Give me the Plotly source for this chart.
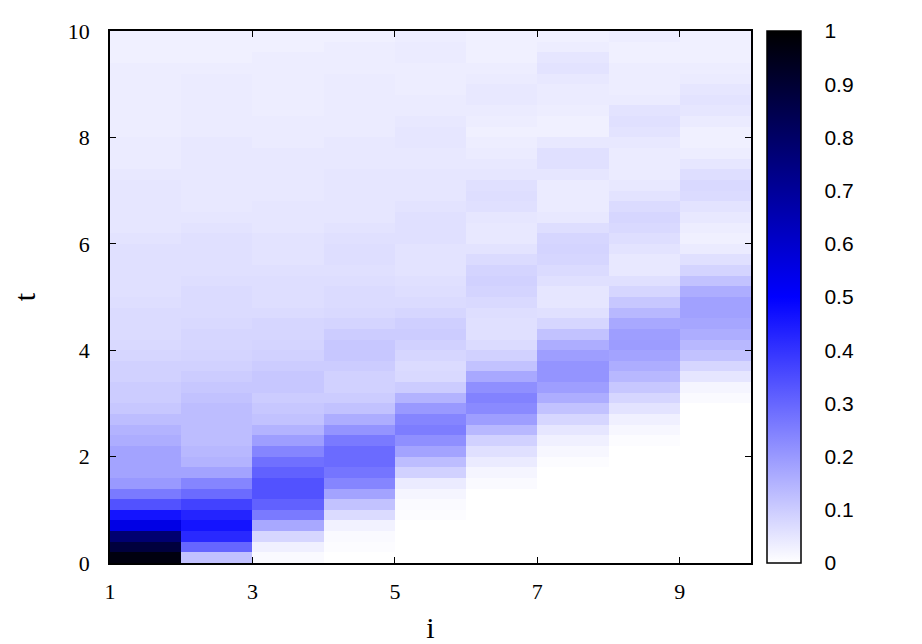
import numpy as np
import plotly.graph_objects as go

# site index (columns) and time bins
i_edges = [1, 2, 3, 4, 5, 6, 7, 8, 9, 10]
t_edges = [round(0.2 * k, 1) for k in range(51)]  # 0, 0.2, ..., 10

# values per site, bottom (t=0.1) to top (t=9.9), one value per 0.2 time step
p1 = [0.97, 0.88, 0.78, 0.55, 0.46, 0.34, 0.26, 0.20, 0.18, 0.18,
      0.18, 0.16, 0.15, 0.13, 0.11, 0.10, 0.10, 0.09, 0.09, 0.08,
      0.075, 0.07, 0.07, 0.07, 0.065, 0.06, 0.06, 0.06, 0.06, 0.06,
      0.055, 0.05, 0.05, 0.05, 0.05, 0.05, 0.045, 0.04, 0.04, 0.04,
      0.035, 0.035, 0.035, 0.035, 0.035, 0.035, 0.035, 0.03, 0.03, 0.03]
p2 = [0.12, 0.30, 0.42, 0.46, 0.43, 0.37, 0.29, 0.24, 0.18, 0.15,
      0.14, 0.13, 0.13, 0.13, 0.13, 0.12, 0.11, 0.10, 0.09, 0.085,
      0.08, 0.08, 0.075, 0.07, 0.07, 0.07, 0.065, 0.06, 0.06, 0.06,
      0.06, 0.055, 0.05, 0.045, 0.045, 0.045, 0.045, 0.045, 0.045, 0.045,
      0.04, 0.04, 0.04, 0.04, 0.04, 0.04, 0.035, 0.03, 0.03, 0.03]
p3 = [0.01, 0.03, 0.08, 0.17, 0.26, 0.31, 0.34, 0.34, 0.31, 0.28,
      0.24, 0.19, 0.15, 0.12, 0.11, 0.10, 0.11, 0.11, 0.10, 0.09,
      0.085, 0.08, 0.08, 0.07, 0.065, 0.065, 0.065, 0.06, 0.055, 0.055,
      0.055, 0.05, 0.05, 0.05, 0.045, 0.045, 0.045, 0.045, 0.045, 0.04,
      0.04, 0.04, 0.035, 0.035, 0.035, 0.035, 0.035, 0.035, 0.03, 0.03]
p4 = [0.0, 0.005, 0.01, 0.025, 0.07, 0.12, 0.18, 0.24, 0.27, 0.29,
      0.29, 0.26, 0.21, 0.16, 0.12, 0.10, 0.09, 0.09, 0.10, 0.11,
      0.11, 0.10, 0.085, 0.075, 0.07, 0.07, 0.065, 0.06, 0.065, 0.065,
      0.06, 0.055, 0.05, 0.05, 0.05, 0.05, 0.05, 0.045, 0.045, 0.045,
      0.04, 0.04, 0.04, 0.04, 0.04, 0.04, 0.035, 0.035, 0.035, 0.03]
p5 = [0.0, 0.0, 0.0, 0.0, 0.005, 0.01, 0.02, 0.04, 0.09, 0.13,
      0.18, 0.22, 0.255, 0.24, 0.20, 0.15, 0.10, 0.075, 0.07, 0.08,
      0.09, 0.10, 0.095, 0.08, 0.07, 0.065, 0.06, 0.055, 0.055, 0.055,
      0.06, 0.06, 0.06, 0.055, 0.05, 0.05, 0.05, 0.045, 0.045, 0.05,
      0.05, 0.045, 0.04, 0.04, 0.035, 0.035, 0.035, 0.04, 0.04, 0.035]
p6 = [0.0, 0.0, 0.0, 0.0, 0.0, 0.0, 0.0, 0.01, 0.02, 0.04,
      0.06, 0.09, 0.14, 0.19, 0.23, 0.245, 0.22, 0.17, 0.12, 0.09,
      0.07, 0.06, 0.06, 0.065, 0.075, 0.085, 0.09, 0.085, 0.07, 0.055,
      0.045, 0.045, 0.05, 0.06, 0.065, 0.06, 0.05, 0.045, 0.04, 0.035,
      0.03, 0.035, 0.04, 0.045, 0.045, 0.04, 0.035, 0.03, 0.03, 0.03]
p7 = [0.0, 0.0, 0.0, 0.0, 0.0, 0.0, 0.0, 0.0, 0.0, 0.005,
      0.015, 0.03, 0.05, 0.08, 0.12, 0.16, 0.19, 0.21, 0.21, 0.19,
      0.16, 0.12, 0.08, 0.06, 0.05, 0.05, 0.06, 0.07, 0.08, 0.085,
      0.08, 0.065, 0.045, 0.04, 0.04, 0.04, 0.05, 0.06, 0.06, 0.045,
      0.03, 0.03, 0.035, 0.04, 0.04, 0.045, 0.055, 0.05, 0.035, 0.03]
p8 = [0.0, 0.0, 0.0, 0.0, 0.0, 0.0, 0.0, 0.0, 0.0, 0.0,
      0.0, 0.005, 0.015, 0.03, 0.055, 0.08, 0.11, 0.14, 0.16, 0.18,
      0.195, 0.19, 0.17, 0.14, 0.11, 0.08, 0.06, 0.045, 0.045, 0.055,
      0.065, 0.075, 0.08, 0.07, 0.055, 0.045, 0.04, 0.04, 0.04, 0.045,
      0.055, 0.06, 0.055, 0.04, 0.035, 0.035, 0.035, 0.03, 0.03, 0.035]
p9 = [0.0, 0.0, 0.0, 0.0, 0.0, 0.0, 0.0, 0.0, 0.0, 0.0,
      0.0, 0.0, 0.0, 0.0, 0.0, 0.01, 0.02, 0.05, 0.08, 0.12,
      0.14, 0.16, 0.175, 0.185, 0.185, 0.16, 0.12, 0.085, 0.06, 0.04,
      0.03, 0.035, 0.045, 0.055, 0.07, 0.075, 0.065, 0.05, 0.035, 0.03,
      0.03, 0.04, 0.05, 0.055, 0.05, 0.04, 0.035, 0.03, 0.03, 0.03]

x_ticks = [1, 3, 5, 7, 9]
y_ticks = [0, 2, 4, 6, 8, 10]
cb_ticks = [0, 0.1, 0.2, 0.3, 0.4, 0.5, 0.6, 0.7, 0.8, 0.9, 1]

columns = [p1, p2, p3, p4, p5, p6, p7, p8, p9]
z = np.array(columns).T  # rows = time, cols = site

# page has an 8px body margin; figure sized to fit inside the 922x644 window
L, R, T, B = 102, 171, 23, 81
W, H = 914, 636
plot_w = W - L - R
CB_THICK = 34
cb_x = (759 - L) / plot_w
TICK_CB = 10

fig = go.Figure(go.Heatmap(
    x=i_edges, y=t_edges, z=z,
    zmin=0, zmax=1,
    colorscale=[[0, "rgb(255,255,255)"], [0.5, "rgb(0,0,255)"], [1, "rgb(0,0,0)"]],
    colorbar=dict(
        x=cb_x, xanchor="left", xpad=0, ypad=0,
        y=0.5, yanchor="middle", len=1, lenmode="fraction",
        thickness=CB_THICK, outlinewidth=1.5, outlinecolor="black",
        tickvals=cb_ticks, ticktext=[f"{v:g}" for v in cb_ticks],
        ticks="outside", ticklen=19, tickwidth=1, tickcolor="rgba(0,0,0,0)",
        tickfont=dict(family="Liberation Sans, Arial, sans-serif", size=21, color="black"),
    ),
    showscale=True,
))

# inward colorbar ticks on both edges (as gnuplot draws them)
for v in cb_ticks[1:-1]:
    for a, b in [(0, TICK_CB), (CB_THICK - TICK_CB, CB_THICK)]:
        fig.add_shape(type="line", xref="paper", yref="paper",
                      xsizemode="pixel", xanchor=cb_x,
                      x0=a, x1=b, y0=v, y1=v,
                      line=dict(color="black", width=1))

serif = "Liberation Serif, Times New Roman, serif"
fig.update_layout(
    width=W, height=H,
    margin=dict(l=L, r=R, t=T, b=B, autoexpand=False),
    paper_bgcolor="white", plot_bgcolor="white",
    xaxis=dict(
        range=[1, 10], tickvals=x_ticks, ticktext=[str(v) for v in x_ticks],
        ticks="inside", ticklen=6, tickwidth=1, tickcolor="black",
        showline=True, linecolor="black", linewidth=1.5, mirror="ticks",
        showgrid=False, zeroline=False, automargin=False,
        tickfont=dict(family=serif, size=22, color="black"),
        ticklabelstandoff=8,
        title=dict(text="i", font=dict(family=serif, size=30, color="black"), standoff=16),
    ),
    yaxis=dict(
        range=[0, 10], tickvals=y_ticks, ticktext=[str(v) for v in y_ticks],
        ticks="inside", ticklen=6, tickwidth=1, tickcolor="black",
        showline=True, linecolor="black", linewidth=1.5, mirror="ticks",
        showgrid=False, zeroline=False, automargin=False,
        tickfont=dict(family=serif, size=22, color="black"),
        ticklabelstandoff=14,
        title=dict(text="t", font=dict(family=serif, size=30, color="black"), standoff=33),
    ),
)

fig.write_html("out.html")
